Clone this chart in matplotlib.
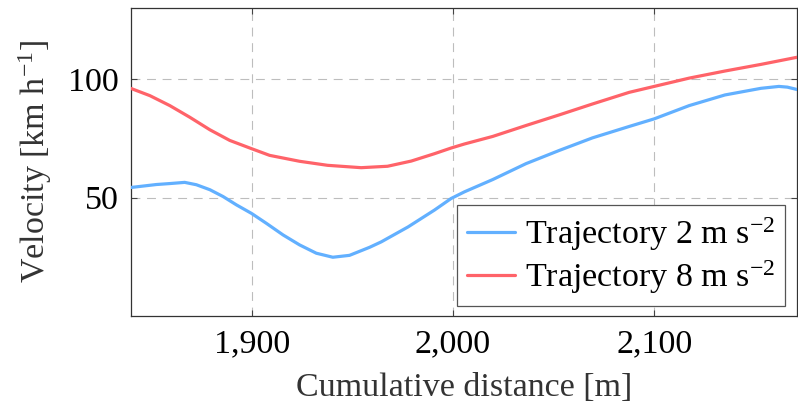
import matplotlib
matplotlib.use("Agg")
import matplotlib.pyplot as plt

dist_2 = [1839.5, 1852.7, 1859.3, 1866.7, 1872.5, 1879.2, 1885.8, 1892.4, 1899.9,
          1907.3, 1915.6, 1923.8, 1932.1, 1940.3, 1948.6, 1958.6, 1964.4, 1977.7,
          1990.8, 1999.1, 2005.7, 2019.8, 2036.3, 2052.9, 2069.4, 2087.6, 2100.0,
          2117.4, 2135.2, 2153.1, 2162.0, 2166.2, 2171.0]
vel_2 = [54.2, 55.5, 55.9, 56.4, 55.4, 53.3, 50.4, 46.9, 43.3,
         39.1, 34.2, 30.0, 26.5, 24.8, 25.6, 29.0, 31.3, 37.6,
         44.7, 49.6, 52.4, 57.6, 64.3, 69.9, 75.2, 80.0, 83.2,
         88.8, 93.3, 96.1, 96.9, 96.6, 95.6]

dist_8 = [1839.5, 1849.4, 1859.3, 1869.2, 1879.2, 1889.1, 1900.0, 1908.9, 1923.8,
          1937.7, 1954.4, 1967.5, 1979.3, 1990.8, 1999.1, 2005.7, 2019.8, 2036.3,
          2052.9, 2069.4, 2087.6, 2100.0, 2117.4, 2135.2, 2153.1, 2171.0]
vel_8 = [96.2, 93.0, 88.8, 83.9, 78.6, 74.1, 70.6, 67.8, 65.3,
         63.6, 62.6, 63.2, 65.4, 68.5, 70.9, 72.6, 75.8, 80.4,
         84.9, 89.5, 94.4, 96.9, 100.4, 103.4, 106.2, 109.2]

x_ticks = [1900, 2000, 2100]
x_tick_labels = ["1,900", "2,000", "2,100"]
y_ticks = [50, 100]
y_tick_labels = ["50", "100"]

plt.rcParams["font.family"] = ["Liberation Serif", "DejaVu Serif"]
plt.rcParams["mathtext.fontset"] = "custom"
plt.rcParams["mathtext.rm"] = "Liberation Serif"
plt.rcParams["mathtext.it"] = "Liberation Serif:italic"

fs = 24.5

fig = plt.figure(figsize=(7.98, 4.08), dpi=100)
ax = fig.add_axes([131 / 798, 92 / 408, 666 / 798, 308 / 408])

ax.plot(dist_2, vel_2, color="#62b0ff", lw=2.3, solid_capstyle="round",
        solid_joinstyle="round", label=r"Trajectory 2 m s$^{-2}$", zorder=3)
ax.plot(dist_8, vel_8, color="#ff6369", lw=2.3, solid_capstyle="round",
        solid_joinstyle="round", label=r"Trajectory 8 m s$^{-2}$", zorder=3)

ax.set_xlim(1840, 2171)
ax.set_ylim(0, 130)
ax.set_xticks(x_ticks)
ax.set_xticklabels(x_tick_labels)
ax.set_yticks(y_ticks)
ax.set_yticklabels(y_tick_labels)

ax.grid(True, color="#bdbdbd", lw=0.8, linestyle=(0, (8, 6)))
ax.tick_params(direction="in", length=4, width=0.8, color="#444444",
               top=True, right=True, labelsize=fs, pad=9)
for spine in ax.spines.values():
    spine.set_color("#333333")
    spine.set_linewidth(0.9)

ax.set_xlabel("Cumulative distance [m]", fontsize=fs, color="#333333", labelpad=10)
ax.set_ylabel(r"Velocity [km h$^{-1}$]", fontsize=fs, color="#333333", labelpad=10)

leg = ax.legend(loc="lower right", bbox_to_anchor=(0.982, 0.032), borderaxespad=0,
                fontsize=fs, fancybox=False, framealpha=1, edgecolor="#555555",
                handlelength=1.4, handletextpad=0.3, labelspacing=0.15,
                borderpad=0.3)
leg.get_frame().set_linewidth(0.9)

fig.savefig("out.png", dpi=100)
plt.close(fig)
